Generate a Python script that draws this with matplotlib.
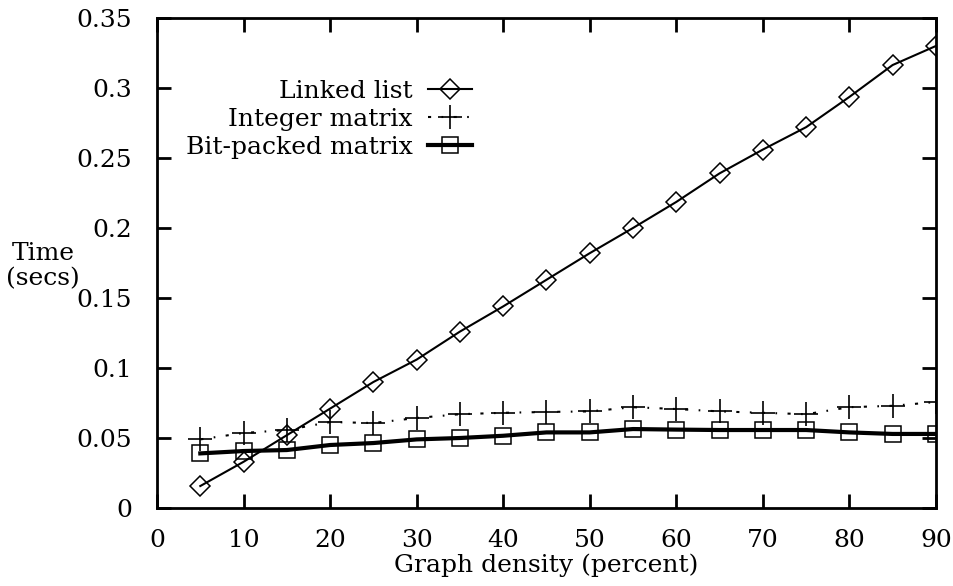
import numpy as np
import matplotlib
matplotlib.use("Agg")
import matplotlib.pyplot as plt

# graph density (percent) and run times in seconds
density = [5, 10, 15, 20, 25, 30, 35, 40, 45, 50, 55, 60, 65, 70, 75, 80, 85, 90]
linked_list = [0.0157, 0.033, 0.052, 0.071, 0.090, 0.106, 0.126, 0.144, 0.163, 0.182,
               0.200, 0.2186, 0.239, 0.256, 0.272, 0.2936, 0.3164, 0.330]
integer_matrix = [0.049, 0.0536, 0.0557, 0.0614, 0.0607, 0.0643, 0.067, 0.068, 0.0686, 0.069,
                  0.072, 0.0707, 0.069, 0.068, 0.067, 0.072, 0.073, 0.0757]
bitpacked_matrix = [0.039, 0.0407, 0.0414, 0.045, 0.0464, 0.049, 0.050, 0.0516, 0.054, 0.054,
                    0.0564, 0.056, 0.0557, 0.0557, 0.0557, 0.054, 0.0529, 0.0529]

plt.rcParams['font.family'] = 'DejaVu Serif'
plt.rcParams['font.size'] = 18

fig = plt.figure(figsize=(9.54, 5.86), dpi=100)
fig.patch.set_facecolor('white')
ax1 = fig.add_axes([0.1646, 0.1331, 0.8164, 0.8362])

ax1.plot(density, linked_list, color='black', lw=1.5, marker='D', ms=10,
         mfc='none', mec='black', mew=1.1, label='Linked list')
ax1.plot(density, integer_matrix, color='black', lw=1.5, dashes=(1.5, 5, 0.8, 5),
         marker='+', ms=17, mew=1.2, label='Integer matrix')
ax1.plot(density, bitpacked_matrix, color='black', lw=3.0, marker='s', ms=11,
         mfc='none', mec='black', mew=1.1, label='Bit-packed matrix')

ax1.set_xlim(0, 90)
ax1.set_ylim(0, 0.35)
ax1.set_xticks(np.arange(0, 91, 10))
ax1.set_yticks(np.arange(0, 0.351, 0.05))
ax1.set_yticklabels(['0', '0.05', '0.1', '0.15', '0.2', '0.25', '0.3', '0.35'])

for s in ax1.spines.values():
    s.set_linewidth(2)
ax1.tick_params(direction='in', length=10, width=2, top=True, right=True)
ax1.tick_params(axis='y', pad=18)
ax1.tick_params(axis='x', pad=15)

ax1.set_xlabel('Graph density (percent)', labelpad=1)
ax1.set_ylabel('Time\n(secs)', rotation=0, ha='center', va='center', linespacing=1.15)
ax1.yaxis.set_label_coords(-0.146, 0.494)

leg = ax1.legend(loc='upper right', bbox_to_anchor=(0.404, 0.873), frameon=False,
                 markerfirst=False, handlelength=1.76, handletextpad=0.6,
                 labelspacing=0.2, borderaxespad=0.0, borderpad=0.0)
for t in leg.get_texts():
    t.set_ha('right')

fig.savefig('out.png', dpi=100)
